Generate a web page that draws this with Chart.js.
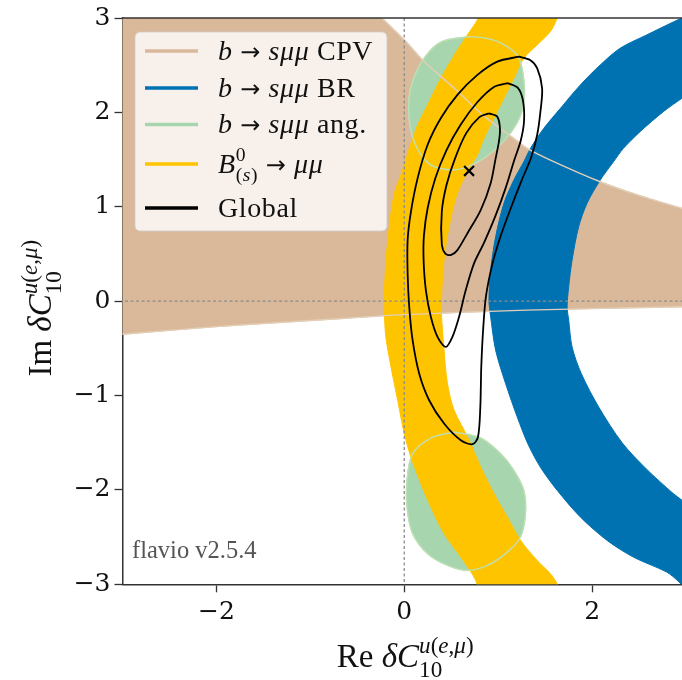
<!DOCTYPE html>
<html>
<head>
<meta charset="utf-8">
<script src="https://cdn.jsdelivr.net/npm/chart.js@4.4.1/dist/chart.umd.min.js"></script>
<style>
  html, body { margin: 0; padding: 0; background: #fff; overflow: hidden; }
  #wrap { width: 682px; height: 680px; overflow: hidden; }
</style>
</head>
<body>
<div id="wrap"><canvas id="chart" width="700" height="680"></canvas></div>
<script>
// tick positions
const xTicks = [-2, 0, 2];
const yTicks = [-3, -2, -1, 0, 1, 2, 3];

// legend entries ($..$ = italic, ^{..} / _{..} = scripts)
const seriesLabels = [
  "$b$ \u2192 $s\u03bc\u03bc$ CPV",
  "$b$ \u2192 $s\u03bc\u03bc$ BR",
  "$b$ \u2192 $s\u03bc\u03bc$ ang.",
  "$B$^{0}_{($s$)} \u2192 $\u03bc\u03bc$",
  "Global"
];
const seriesColors = ["#dab99b", "#0072b2", "#a7d5ae", "#ffc400", "#000000"];

// 1 sigma regions, [Re, Im] along each boundary (corners sit outside the frame)
const cpvRegion = [
  [-3.6, 3.6], [-0.84, 3.6], [-0.64, 3.4], [-0.44, 3.2], [-0.237, 3.0], [0.018, 2.75],
  [0.212, 2.538], [0.55, 2.24], [0.85, 1.96], [1.167, 1.725], [1.309, 1.619], [1.556, 1.495],
  [2.087, 1.265], [2.5, 1.12], [2.957, 0.983], [3.3, 0.89], [3.6, 0.82],
  [3.6, -0.05], [3.3, -0.053], [2.96, -0.06], [1.3, -0.095], [-0.1, -0.148],
  [-0.66, -0.184], [-2.0, -0.27], [-3.0, -0.35], [-3.3, -0.37], [-3.6, -0.39], [-3.6, 3.6]
];
const brBand = [
  [3.3, 3.2], [3.08, 3.06], [2.88, 2.965], [2.582, 2.821], [2.299, 2.68], [2.087, 2.503],
  [1.875, 2.291], [1.663, 2.043], [1.486, 1.831], [1.344, 1.619], [1.273, 1.477], [1.167, 1.283],
  [1.061, 1.036], [0.973, 0.682], [0.92, 0.329], [0.902, 0.011], [0.92, -0.166], [0.973, -0.52],
  [1.079, -0.873], [1.203, -1.227], [1.32, -1.52], [1.45, -1.76], [1.628, -2.004],
  [1.875, -2.287], [2.158, -2.534], [2.44, -2.712], [2.795, -2.871], [2.92, -2.97],
  [3.08, -3.13], [3.3, -3.3],
  [3.3, -2.4], [3.1, -2.25], [2.957, -2.11], [2.865, -2.039], [2.58, -1.78], [2.32, -1.5],
  [2.07, -1.121], [1.885, -0.767], [1.787, -0.485], [1.751, -0.201], [1.734, -0.06],
  [1.751, 0.152], [1.787, 0.435], [1.857, 0.788], [1.946, 1.036], [2.087, 1.283],
  [2.228, 1.477], [2.334, 1.619], [2.511, 1.796], [2.759, 2.008], [2.957, 2.15], [3.1, 2.25],
  [3.3, 2.4], [3.3, 3.2]
];
const angUpper = [
  [0.683, 2.803], [0.85, 2.79], [1.037, 2.732], [1.214, 2.591], [1.277, 2.308], [1.267, 2.061],
  [1.178, 1.848], [1.002, 1.636], [0.754, 1.46], [0.506, 1.389], [0.259, 1.46], [0.1, 1.707],
  [0.047, 2.025], [0.082, 2.308], [0.223, 2.591], [0.4, 2.75], [0.683, 2.803]
];
const angLower = [
  [0.531, -1.386], [0.814, -1.45], [1.026, -1.615], [1.167, -1.792], [1.273, -2.004],
  [1.291, -2.251], [1.238, -2.499], [1.097, -2.659], [0.885, -2.8], [0.672, -2.853],
  [0.46, -2.8], [0.248, -2.676], [0.089, -2.463], [0.029, -2.181], [0.029, -1.898],
  [0.089, -1.615], [0.283, -1.45], [0.531, -1.386]
];
const bsmumuBand = [
  [0.88, 3.3], [0.83, 3.15], [0.778, 2.98], [0.672, 2.821], [0.513, 2.574], [0.371, 2.326],
  [0.248, 2.078], [0.142, 1.866], [0.053, 1.619], [-0.03, 1.35], [-0.106, 1.142],
  [-0.159, 0.788], [-0.194, 0.435], [-0.212, 0.05], [-0.2, -0.343], [-0.141, -0.697],
  [-0.07, -1.05], [0.0, -1.403], [0.071, -1.651], [0.177, -1.933], [0.283, -2.181],
  [0.424, -2.463], [0.602, -2.712], [0.761, -2.959], [0.8, -3.15], [0.84, -3.3],
  [1.76, -3.3], [1.7, -3.15], [1.628, -2.994], [1.556, -2.888], [1.415, -2.747], [1.238, -2.534],
  [1.097, -2.287], [0.955, -2.039], [0.814, -1.757], [0.68, -1.45], [0.531, -1.156],
  [0.46, -0.873], [0.424, -0.52], [0.395, -0.06], [0.424, 0.435], [0.477, 0.788],
  [0.566, 1.142], [0.7, 1.42], [0.778, 1.548], [0.849, 1.725], [0.955, 1.937], [1.061, 2.15],
  [1.167, 2.362], [1.273, 2.574], [1.415, 2.715], [1.556, 2.856], [1.628, 2.998], [1.68, 3.15],
  [1.74, 3.3], [0.88, 3.3]
];

// global fit contours (1, 2, 3 sigma) and best fit point
const global1 = [
  [0.9, 1.99], [0.99, 1.955], [1.019, 1.831], [1.008, 1.689], [0.973, 1.513], [0.92, 1.25],
  [0.814, 0.965], [0.673, 0.72], [0.566, 0.541], [0.5, 0.49], [0.44, 0.5], [0.4, 0.6],
  [0.4, 0.95], [0.45, 1.23], [0.54, 1.51], [0.66, 1.78], [0.8, 1.95], [0.9, 1.99]
];
const global2 = [
  [1.1, 2.31], [1.21, 2.26], [1.265, 2.12], [1.275, 1.9], [1.24, 1.7], [1.17, 1.49],
  [1.08, 1.2], [0.97, 0.9], [0.85, 0.62], [0.743, 0.4], [0.655, 0.117], [0.584, -0.166],
  [0.513, -0.379], [0.442, -0.485], [0.354, -0.379], [0.283, -0.166], [0.23, 0.117],
  [0.206, 0.435], [0.21, 0.7], [0.25, 0.99], [0.33, 1.3], [0.45, 1.6], [0.6, 1.87],
  [0.78, 2.11], [0.955, 2.27], [1.1, 2.31]
];
const global3 = [
  [1.22, 2.59], [1.34, 2.556], [1.415, 2.468], [1.468, 2.256], [1.45, 2.008], [1.415, 1.76],
  [1.35, 1.52], [1.25, 1.28], [1.14, 1.0], [1.03, 0.7], [0.94, 0.4], [0.87, 0.05],
  [0.84, -0.3], [0.82, -0.7], [0.81, -1.12], [0.785, -1.439], [0.726, -1.516], [0.602, -1.474],
  [0.424, -1.297], [0.265, -1.05], [0.159, -0.767], [0.089, -0.414], [0.053, -0.06],
  [0.036, 0.294], [0.036, 0.647], [0.071, 0.947], [0.142, 1.301], [0.248, 1.654],
  [0.389, 1.937], [0.566, 2.185], [0.779, 2.397], [0.991, 2.538], [1.22, 2.59]
];
const bestFit = [[0.69, 1.38]];

const xy = pts => pts.map(([x, y]) => ({ x, y }));
const SERIF = '"Liberation Serif", "DejaVu Serif", serif';

function region(pts, color, order) {
  return {
    data: xy(pts), order, fill: 'shape', backgroundColor: color,
    borderColor: color, borderWidth: 1, pointRadius: 0, tension: 0.3
  };
}
function outline(pts, color, width, order) {
  return {
    data: xy(pts), order, fill: false, borderColor: color,
    borderWidth: width, pointRadius: 0, tension: 0.3
  };
}
function refLine(pts) {
  return {
    data: xy(pts), order: 50, fill: false, borderColor: '#8c8c8c',
    borderWidth: 1.3, borderDash: [3, 2.5], pointRadius: 0, tension: 0
  };
}

// tiny markup renderer for the math-like labels
function parseRich(src) {
  const out = [];
  let i = 0, it = false, buf = '';
  const flush = () => { if (buf) out.push({ t: buf, it }); buf = ''; };
  while (i < src.length) {
    const c = src[i];
    if (c === '$') { flush(); it = !it; i++; continue; }
    if (c === '\u2192') { flush(); out.push({ t: c, arrow: true }); i++; continue; }
    if ((c === '^' || c === '_') && src[i + 1] === '{') {
      flush();
      let depth = 1, j = i + 2;
      while (depth) { if (src[j] === '{') depth++; else if (src[j] === '}') depth--; j++; }
      out.push({ script: c === '^' ? 'sup' : 'sub', items: parseRich(src.slice(i + 2, j - 1)) });
      i = j;
      continue;
    }
    buf += c;
    i++;
  }
  flush();
  return out;
}
function drawItems(ctx, items, x, y, size, dry) {
  let cx = x;
  for (let k = 0; k < items.length; k++) {
    const p = items[k];
    if (p.script) {
      const next = items[k + 1];
      const pair = next && next.script && next.script !== p.script;
      const group = pair ? [p, next] : [p];
      let w = 0;
      group.forEach(s => {
        const dy = s.script === 'sup' ? -(pair ? 0.42 : 0.36) * size : (pair ? 0.3 : 0.22) * size;
        w = Math.max(w, drawItems(ctx, s.items, cx, y + dy, size * 0.7, dry));
      });
      cx += w;
      if (pair) k++;
    } else if (p.arrow) {
      ctx.font = Math.round(size * 0.85) + 'px "DejaVu Sans"';
      if (!dry) ctx.fillText(p.t, cx, y);
      cx += ctx.measureText(p.t).width;
    } else {
      ctx.font = (p.it ? 'italic ' : '') + size + 'px ' + SERIF;
      if (!dry) ctx.fillText(p.t, cx, y);
      cx += ctx.measureText(p.t).width;
    }
  }
  return cx - x;
}
function drawRich(ctx, src, x, y, size, align) {
  const items = parseRich(src);
  ctx.textBaseline = 'alphabetic';
  ctx.textAlign = 'left';
  let x0 = x;
  if (align === 'center') x0 = x - drawItems(ctx, items, 0, 0, size, true) / 2;
  drawItems(ctx, items, x0, y, size, false);
}

const decorations = {
  id: 'decorations',
  afterDraw(chart) {
    const { ctx, chartArea: a } = chart;
    ctx.save();
    // top spine
    ctx.strokeStyle = '#333';
    ctx.lineWidth = 1.5;
    ctx.beginPath();
    ctx.moveTo(a.left - 0.75, a.top);
    ctx.lineTo(a.right, a.top);
    ctx.stroke();

    // version tag
    ctx.fillStyle = '#555';
    ctx.font = '24.5px ' + SERIF;
    ctx.textAlign = 'left';
    ctx.textBaseline = 'alphabetic';
    ctx.fillText('flavio v2.5.4', 132, 558);

    // legend
    const lx = 135, ly = 32, lw = 252, lh = 199;
    ctx.beginPath();
    ctx.roundRect(lx, ly, lw, lh, 5);
    ctx.fillStyle = 'rgba(255,255,255,0.8)';
    ctx.fill();
    ctx.strokeStyle = 'rgba(204,204,204,0.8)';
    ctx.lineWidth = 1;
    ctx.stroke();
    const rowY = [51, 88, 124.5, 164, 208];
    ctx.letterSpacing = '0.6px';
    seriesLabels.forEach((lab, i) => {
      ctx.strokeStyle = seriesColors[i];
      ctx.lineWidth = 3.5;
      ctx.beginPath();
      ctx.moveTo(145, rowY[i]);
      ctx.lineTo(198, rowY[i]);
      ctx.stroke();
      ctx.fillStyle = '#111';
      drawRich(ctx, lab, 218, rowY[i] + 8.5, 28);
    });
    ctx.letterSpacing = '0px';

    // axis titles
    ctx.fillStyle = '#111';
    const xc = chart.scales.x.getPixelForValue(0);
    const yc = chart.scales.y.getPixelForValue(0);
    drawRich(ctx, 'Re $\u03b4C$^{$u$($e$,$\u03bc$)}_{10}', xc + 1, 667, 33, 'center');
    ctx.translate(51, yc + 7);
    ctx.rotate(-Math.PI / 2);
    drawRich(ctx, 'Im $\u03b4C$^{$u$($e$,$\u03bc$)}_{10}', 0, 0, 33, 'center');
    ctx.restore();
  }
};

const fmt = v => (v < 0 ? '\u2212' + Math.abs(v) : String(v));
const noPad = s => { s.paddingTop = 0; s.paddingBottom = 0; s.paddingLeft = 0; s.paddingRight = 0; };
const axisCommon = {
  type: 'linear', min: -3, max: 3,
  grid: { drawOnChartArea: false, drawTicks: true, tickLength: 8, tickColor: '#333', tickWidth: 1.3 },
  border: { display: true, color: '#333', width: 1.5 },
  ticks: { font: { family: '"DejaVu Serif", serif', size: 25 }, color: '#111', maxRotation: 0, callback: fmt }
};

new Chart(document.getElementById('chart'), {
  type: 'line',
  data: {
    datasets: [
      region(cpvRegion, seriesColors[0], 100),
      region(brBand, seriesColors[1], 90),
      region(angUpper, seriesColors[2], 80),
      region(angLower, seriesColors[2], 80),
      region(bsmumuBand, seriesColors[3], 70),
      outline(cpvRegion, '#e3cfb8', 1.4, 60),
      outline(angUpper, '#bfe0b4', 1.4, 60),
      outline(angLower, '#bfe0b4', 1.4, 60),
      refLine([[0, -3.5], [0, 3.5]]),
      refLine([[-3.5, 0], [3.5, 0]]),
      outline(global3, '#000', 1.8, 40),
      outline(global2, '#000', 1.8, 40),
      outline(global1, '#000', 1.8, 40),
      {
        data: xy(bestFit), order: 30, showLine: false, pointStyle: 'crossRot',
        pointRadius: 7, borderColor: '#000', borderWidth: 2.2
      }
    ]
  },
  options: {
    responsive: false,
    animation: false,
    layout: { padding: { left: 0, top: 18, right: 14, bottom: 0 } },
    elements: { line: { capBezierPoints: false } },
    plugins: { legend: { display: false }, tooltip: { enabled: false } },
    scales: {
      x: Object.assign({}, axisCommon, {
        afterFit: s => { s.height = 95.7; noPad(s); },
        afterBuildTicks: s => { s.ticks = xTicks.map(v => ({ value: v })); },
        ticks: Object.assign({}, axisCommon.ticks, { padding: 5 })
      }),
      y: Object.assign({}, axisCommon, {
        afterFit: s => { s.width = 122.5; noPad(s); },
        afterBuildTicks: s => { s.ticks = yTicks.map(v => ({ value: v })); },
        ticks: Object.assign({}, axisCommon.ticks, { padding: 4 })
      })
    }
  },
  plugins: [decorations]
});
</script>
</body>
</html>
